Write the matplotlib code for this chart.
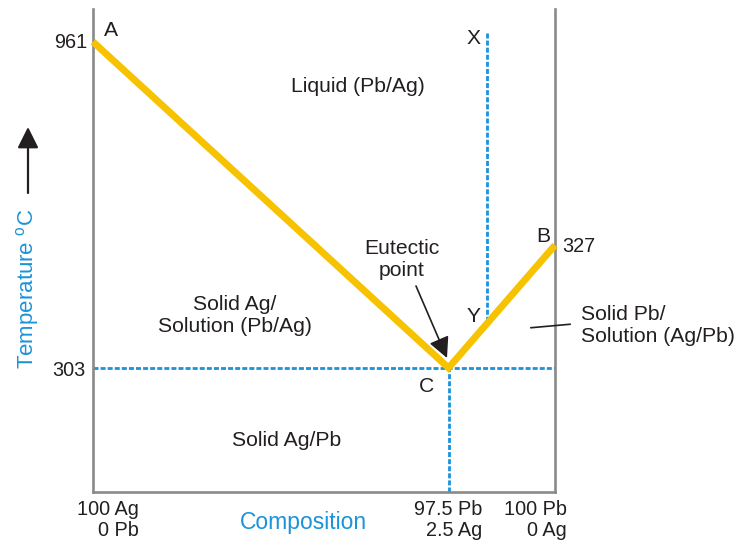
import matplotlib
matplotlib.use("Agg")
import matplotlib.pyplot as plt

plt.rcParams['font.family'] = ['Liberation Sans', 'DejaVu Sans']

# Schematic phase-diagram data (plot units 0..100 on both axes)
liquidus_x = [0, 76.95, 100]        # A, C (eutectic), B
liquidus_y = [93.2, 25.7, 51.1]
point_names = ['A', 'C', 'B']
temp_labels = ['961', '303', '327']
comp_labels = ['100 Ag\n0 Pb', '97.5 Pb\n2.5 Ag', '100 Pb\n0 Ag']
cooling_x = [85.2, 85.2]             # X -> Y cooling path
cooling_y = [95.0, 34.8]
region_labels = ['Liquid (Pb/Ag)', 'Solid Ag/\nSolution (Pb/Ag)',
                 'Solid Ag/Pb', 'Solid Pb/\nSolution (Ag/Pb)']

W, H = 736, 544
L, R, T, B = 93, 555, 9, 492

fig = plt.figure(figsize=(W / 100, H / 100), dpi=100)
ax = fig.add_axes([L / W, 1 - B / H, (R - L) / W, (B - T) / H])
ax.set_xlim(0, 100)
ax.set_ylim(0, 100)
ax.set_xticks([])
ax.set_yticks([])
for s in ['left', 'right', 'bottom']:
    ax.spines[s].set_color('#8a8a8a')
    ax.spines[s].set_linewidth(1.9)
ax.spines['top'].set_visible(False)

blue = '#1a93da'
yellow = '#f7c200'
dash = (0, (1.8, 0.75))
dlw = 2.0

# eutectic horizontal and vertical lines
ax.axhline(liquidus_y[1], color=blue, lw=dlw, ls=dash, zorder=2)
ax.plot([liquidus_x[1], liquidus_x[1]], [0, liquidus_y[1]], color=blue, lw=dlw, ls=dash, zorder=2)
# cooling path
ax.plot(cooling_x, cooling_y, color=blue, lw=dlw, ls=dash, zorder=2)
# liquidus
ax.plot(liquidus_x, liquidus_y, color=yellow, lw=5, solid_joinstyle='miter',
        solid_capstyle='butt', zorder=3, clip_on=False)

def px(x, y):
    return ((x - L) / (R - L), (B - y) / (B - T))

tr = ax.transAxes
fs_num = 14.3
fs_txt = 15.2
txtc = '#231f20'

# temperature tick labels
ax.text(*px(87, 43), temp_labels[0], transform=tr, ha='right', va='center', fontsize=fs_num, color=txtc)
ax.text(*px(85, 371), temp_labels[1], transform=tr, ha='right', va='center', fontsize=fs_num, color=txtc)
ax.text(*px(562, 247), temp_labels[2], transform=tr, ha='left', va='center', fontsize=fs_num, color=txtc)

# point letters
ax.text(*px(111, 30), point_names[0], transform=tr, ha='center', va='center', fontsize=fs_txt, color=txtc)
ax.text(*px(427, 387), point_names[1], transform=tr, ha='center', va='center', fontsize=fs_txt, color=txtc)
ax.text(*px(543, 236), point_names[2], transform=tr, ha='center', va='center', fontsize=fs_txt, color=txtc)
ax.text(*px(474, 38), 'X', transform=tr, ha='center', va='center', fontsize=fs_txt, color=txtc)
ax.text(*px(474, 316), 'Y', transform=tr, ha='center', va='center', fontsize=fs_txt, color=txtc)

# composition labels
for (x, lab) in zip([139, 482, 567], comp_labels):
    ax.text(*px(x, 520), lab, transform=tr, ha='right', va='center', multialignment='right',
            fontsize=fs_num, color=txtc, linespacing=1.15, clip_on=False)

# region labels
ax.text(*px(358, 87), region_labels[0], transform=tr, ha='center', va='center', fontsize=fs_txt, color=txtc)
ax.text(*px(235, 315), region_labels[1], transform=tr, ha='center', va='center', fontsize=fs_txt,
        color=txtc, linespacing=1.2)
ax.text(*px(287, 441), region_labels[2], transform=tr, ha='center', va='center', fontsize=fs_txt, color=txtc)
ax.text(*px(581, 326), region_labels[3], transform=tr, ha='left', va='center', fontsize=fs_txt,
        color=txtc, linespacing=1.2, clip_on=False)
ax.text(*px(402, 259), 'Eutectic\npoint', transform=tr, ha='center', va='center', fontsize=fs_txt,
        color=txtc, linespacing=1.2)

# leader line for solid Pb region
ax.annotate('', xy=px(528, 328), xytext=px(573, 324), xycoords=tr, textcoords=tr,
            arrowprops=dict(arrowstyle='-', color=txtc, lw=1.2), annotation_clip=False)
# eutectic arrow
ax.annotate('', xy=px(447, 358), xytext=px(416, 286), xycoords=tr, textcoords=tr,
            arrowprops=dict(arrowstyle='-|>,head_length=0.7,head_width=0.35', color=txtc, lw=1.2,
                            shrinkA=0, shrinkB=0, mutation_scale=18))

# axis titles
fig.text(303 / W, 1 - 522 / H, 'Composition', ha='center', va='center', fontsize=16.5, color=blue)
fig.text(28 / W, 1 - 289 / H, 'Temperature $^{\\mathregular{o}}$C', ha='center', va='center',
         rotation=90, fontsize=16, color=blue)
fig.patches.append(matplotlib.patches.FancyArrowPatch(
    (28 / W, 1 - 193 / H), (28 / W, 1 - 127 / H), transform=fig.transFigure,
    arrowstyle='-|>,head_length=0.8,head_width=0.4', mutation_scale=16, color='#231f20', lw=1.6,
    shrinkA=0, shrinkB=0))

fig.savefig('out.png', dpi=100)
